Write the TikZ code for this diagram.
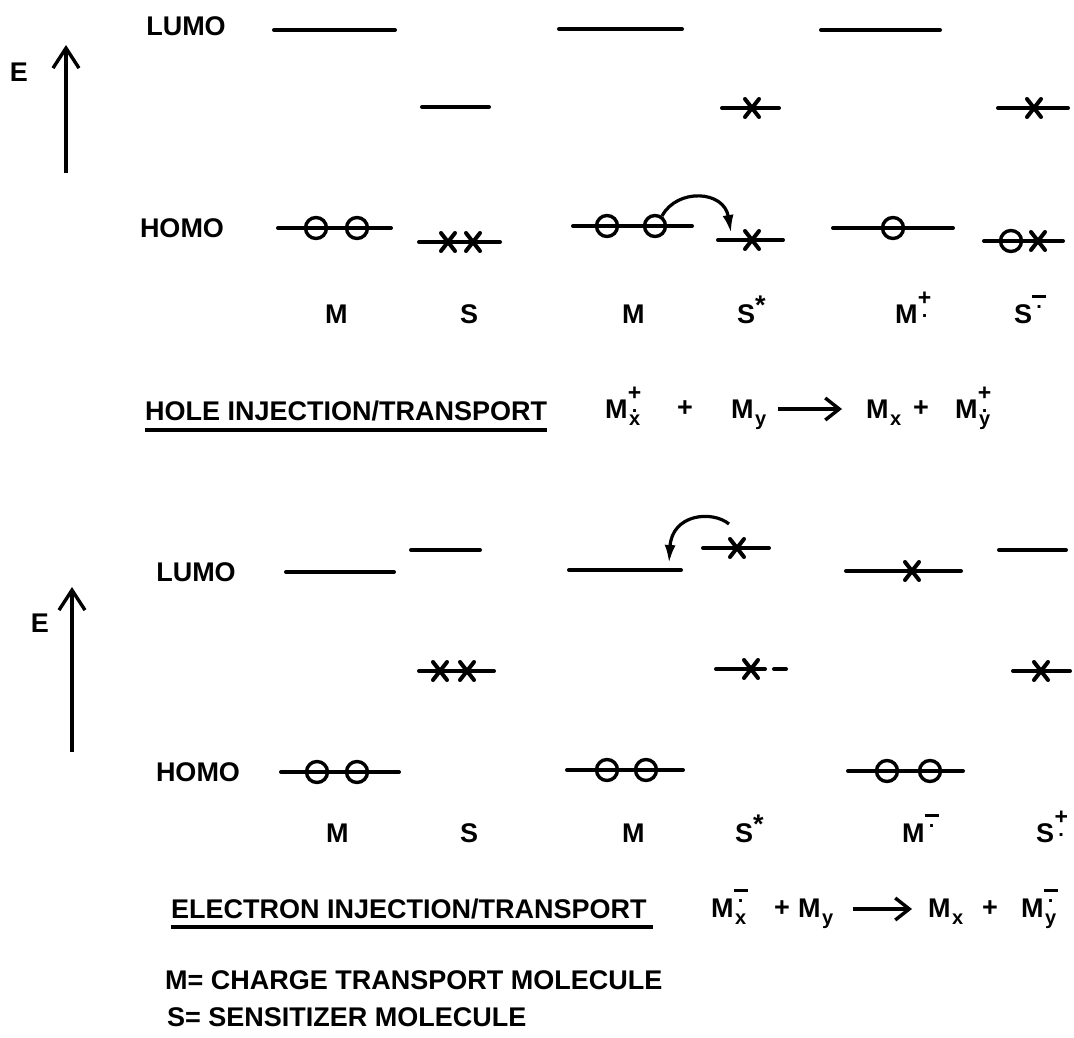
\documentclass[tikz,border=0pt]{standalone}
\usepackage{fontspec}
\setmainfont{Liberation Sans}
\usetikzlibrary{arrows.meta}
% sub / superscript helpers (all sizes in pt = px)
\newcommand\subx[1]{\rlap{\raisebox{-7pt}{\makebox[14pt][c]{\fontsize{20}{20}\selectfont #1}}}}
\newcommand\subonly[1]{\raisebox{-7pt}{\makebox[14pt][c]{\fontsize{20}{20}\selectfont #1}}}
\newcommand\plusdot{\rlap{\raisebox{18pt}{\makebox[14pt][c]{\fontsize{23}{23}\selectfont +}}}\raisebox{6pt}{\makebox[14pt][c]{\fontsize{20}{20}\selectfont .}}}
\newcommand\bardot{\rlap{\raisebox{25pt}{\makebox[14pt][c]{\rule{14pt}{3.5pt}}}}\raisebox{15pt}{\makebox[14pt][c]{\fontsize{20}{20}\selectfont .}}}
\newcommand\withstar[1]{#1\raisebox{9pt}{*}}
% level drawing helpers
\newcommand\lv[3]{\draw[lvl] (#1,#3) -- (#2,#3);}
\newcommand\hl[2]{\draw[orb] (#1,#2) circle[radius=10.5pt];}
\newcommand\el[2]{\draw[elc] ({#1-7},{#2-9}) -- ({#1+7},{#2+9}) ({#1-7},{#2+9}) -- ({#1+7},{#2-9});}
\begin{document}
\begin{tikzpicture}[x=1pt,y=-1pt,
  lvl/.style={line width=4pt,line cap=round},
  orb/.style={line width=3.4pt},
  elc/.style={line width=4pt,line cap=round},
  txt/.style={inner sep=0pt,font=\fontsize{27}{32}\selectfont\bfseries},
  axis/.style={line width=3.4pt,-{Straight Barb[length=20pt,width=26pt]}},
  hop/.style={line width=3.2pt,-{Latex[length=18pt,width=11pt]}},
  eqarr/.style={line width=3.4pt,-{Straight Barb[length=14pt,width=22pt]}},
  ul/.style={line width=3.4pt}]
\useasboundingbox[fill=white] (0,0) rectangle (1074,1038);

% ---------------- top panel ----------------
\node[txt] (lumo1) at (186,26) {LUMO};
\node[txt] (homo1) at (182,228) {HOMO};
\node[txt] (eaxis1) at (19,72) {E};
\coordinate (ax1b) at (66,173);
\coordinate (ax1t) at (66,45);
\draw[axis] (ax1b) -- (ax1t);

\lv{274}{395}{30}
\lv{422}{489}{107}
\lv{559}{682}{29}
\lv{722}{779}{108} \el{752}{108}
\lv{821}{940}{30}
\lv{998}{1068}{108} \el{1034}{108}
\lv{278}{391}{228} \hl{316}{228} \hl{357}{228}
\lv{419}{500}{242} \el{448}{242} \el{473}{242}
\lv{573}{692}{226} \hl{607}{226} \hl{655}{226}
\lv{718}{783}{240} \el{752}{240}
\lv{833}{953}{228} \hl{893}{228}
\lv{984}{1063}{241} \hl{1011}{241} \el{1038}{241}

\coordinate (hop1a) at (662,216);
\coordinate (hop1b) at (731,233);
\draw[hop] (hop1a) .. controls (677,188) and (724,190) .. (hop1b);

\node[txt,anchor=base west] (lm1) at (325,323) {M};
\node[txt,anchor=base west] (ls1) at (460,323) {S};
\node[txt,anchor=base west] (lm2) at (622,323) {M};
\node[txt,anchor=base west] (ls2) at (737,323) {\withstar{S}};
\node[txt,anchor=base west] (lm3) at (895,323) {M\plusdot};
\node[txt,anchor=base west] (ls3) at (1014,323) {S\bardot};

\node[txt,anchor=base west] (hole) at (145,420) {HOLE INJECTION/TRANSPORT};
\draw[ul] ([yshift=-10pt]hole.base west) -- ([yshift=-10pt]hole.base east);

\node[txt,anchor=base west] (e1a) at (605,418) {M\subx{x}\plusdot};
\node[txt] (e1p) at (685,409) {+};
\node[txt,anchor=base west] (e1b) at (731,418) {M\subonly{y}};
\node[txt,anchor=base west] (e1c) at (866,418) {M\subonly{x}};
\node[txt] (e1q) at (921,409) {+};
\node[txt,anchor=base west] (e1d) at (955,418) {M\subx{y}\plusdot};
\coordinate (ar1) at (0,409);
\draw[eqarr] ([xshift=10pt]e1b.east |- ar1) -- ([xshift=-24pt]e1c.west |- ar1);

% ---------------- bottom panel ----------------
\node[txt] (lumo2) at (196,572) {LUMO};
\node[txt] (homo2) at (198,772) {HOMO};
\node[txt] (eaxis2) at (40,623) {E};
\coordinate (ax2b) at (72,752);
\coordinate (ax2t) at (72,587);
\draw[axis] (ax2b) -- (ax2t);

\lv{286}{394}{572}
\lv{411}{480}{550}
\lv{419}{494}{671} \el{440}{671} \el{467}{671}
\lv{281}{399}{772} \hl{317}{772} \hl{357}{772}
\lv{569}{681}{570}
\lv{703}{769}{548} \el{737}{548}
\lv{716}{765}{669} \el{751}{669} \lv{774}{786}{669}
\lv{846}{961}{571} \el{912}{571}
\lv{999}{1066}{550}
\lv{1013}{1070}{671} \el{1041}{671}
\lv{567}{683}{770} \hl{607}{770} \hl{646}{770}
\lv{848}{963}{771} \hl{887}{771} \hl{930}{771}

\coordinate (hop2a) at (729,524);
\coordinate (hop2b) at (669,563);
\draw[hop] (hop2a) .. controls (712,510) and (672,514) .. (hop2b);

\node[txt,anchor=base west] (bm1) at (326,842) {M};
\node[txt,anchor=base west] (bs1) at (460,842) {S};
\node[txt,anchor=base west] (bm2) at (622,842) {M};
\node[txt,anchor=base west] (bs2) at (735,842) {\withstar{S}};
\node[txt,anchor=base west] (bm3) at (902,842) {M\bardot};
\node[txt,anchor=base west] (bs3) at (1036,842) {S\plusdot};

\node[txt,anchor=base west] (elec) at (171,918) {ELECTRON INJECTION/TRANSPORT};
\draw[ul] ([yshift=-9pt]elec.base west) -- ([xshift=6pt,yshift=-9pt]elec.base east);

\node[txt,anchor=base west] (e2a) at (711,917) {M\subx{x}\bardot};
\node[txt] (e2p) at (782,909) {+};
\node[txt,anchor=base west] (e2b) at (798,917) {M\subonly{y}};
\node[txt,anchor=base west] (e2c) at (928,917) {M\subonly{x}};
\node[txt] (e2q) at (990,909) {+};
\node[txt,anchor=base west] (e2d) at (1021,917) {M\subx{y}\bardot};
\coordinate (ar2) at (0,909);
\draw[eqarr] ([xshift=18pt]e2b.east |- ar2) -- ([xshift=-16pt]e2c.west |- ar2);

\node[txt,anchor=base west] (defm) at (165,989) {M= CHARGE TRANSPORT MOLECULE};
\node[txt,anchor=base west] (defs) at (167,1026) {S= SENSITIZER MOLECULE};
\end{tikzpicture}
\end{document}
